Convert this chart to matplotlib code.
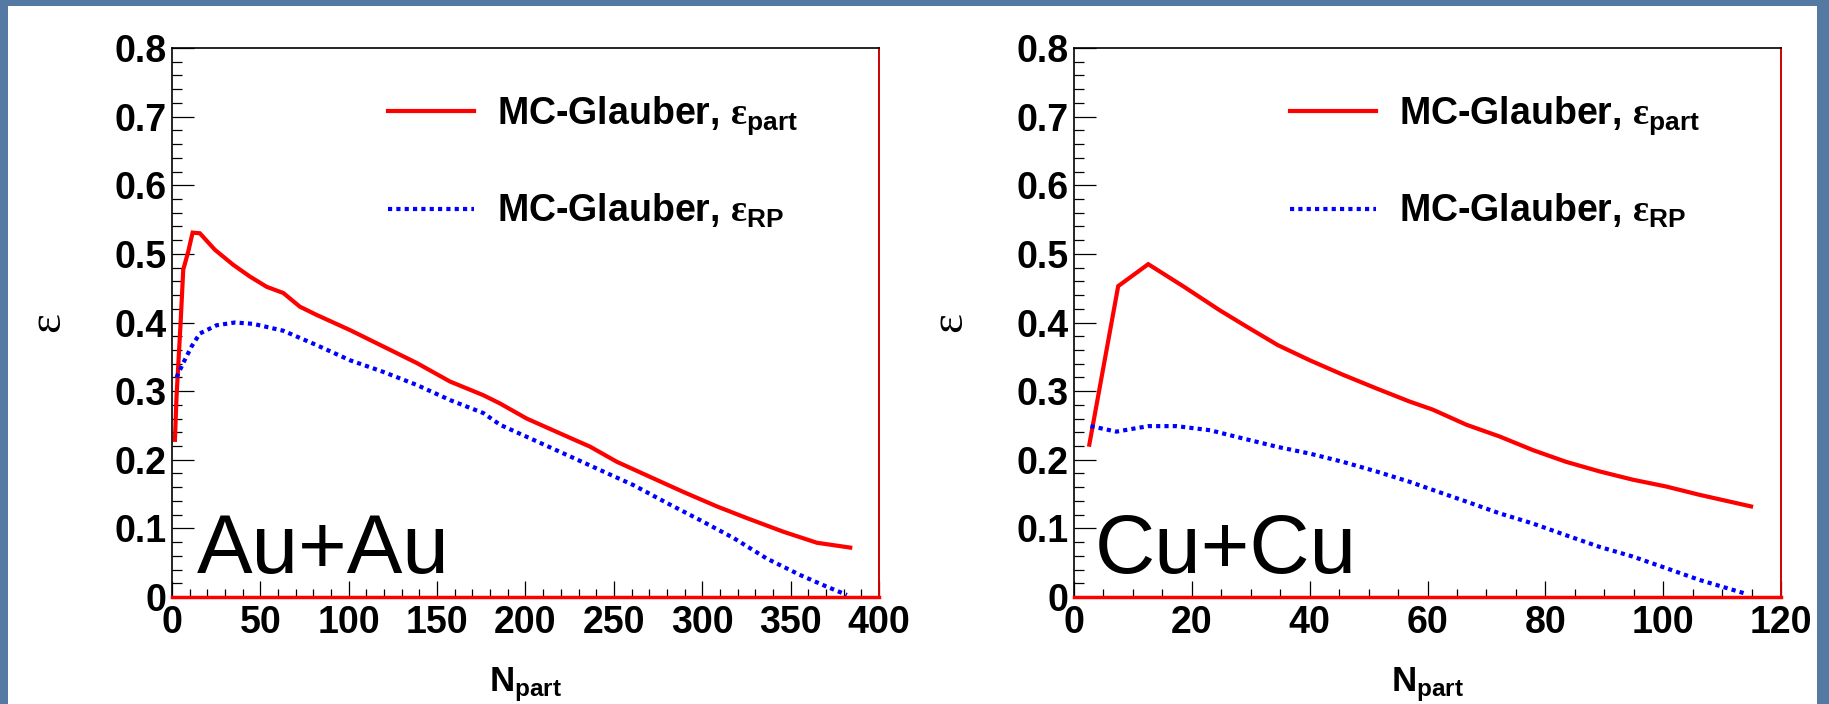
import matplotlib
matplotlib.use("Agg")
import matplotlib.pyplot as plt
from matplotlib.patches import Rectangle
from matplotlib.ticker import MultipleLocator, FixedLocator, FixedFormatter

# Au+Au, eps_part (MC-Glauber)
au_part_n = [1.7, 2.6, 4.9, 6.4, 9.2, 11.7, 15.8, 24.3, 34.7, 44.1, 53.6, 63.0, 72.4,
             81.9, 100.7, 119.6, 138.5, 157.3, 176.2, 185.6, 200.7, 223.4, 236.6,
             251.7, 270.5, 289.4, 308.3, 325.2, 346.0, 364.9, 383.7]
au_part_e = [0.229, 0.292, 0.399, 0.477, 0.503, 0.531, 0.530, 0.506, 0.484, 0.467, 0.452,
             0.443, 0.423, 0.411, 0.389, 0.365, 0.341, 0.314, 0.294, 0.282, 0.260,
             0.234, 0.219, 0.197, 0.175, 0.153, 0.132, 0.115, 0.095, 0.079, 0.072]
# Au+Au, eps_RP
au_rp_n = [2.6, 6.4, 11.1, 15.8, 25.3, 35.7, 46.0, 63.0, 81.9, 100.7, 119.6, 138.5,
           157.3, 176.2, 185.6, 204.5, 223.4, 242.2, 261.1, 280.0, 298.8, 317.7,
           336.5, 355.4, 369.6, 381.8]
au_rp_e = [0.320, 0.341, 0.365, 0.384, 0.396, 0.400, 0.398, 0.388, 0.367, 0.345, 0.328,
           0.309, 0.287, 0.268, 0.251, 0.229, 0.207, 0.185, 0.163, 0.137, 0.112,
           0.086, 0.056, 0.032, 0.016, 0.003]

# Cu+Cu, eps_part
cu_part_n = [2.6, 7.5, 12.6, 18.5, 24.7, 29.3, 34.6, 40.0, 45.6, 51.3, 56.9, 60.9,
             66.6, 72.2, 77.9, 83.5, 89.2, 94.8, 100.5, 106.1, 114.9]
cu_part_e = [0.222, 0.453, 0.485, 0.453, 0.418, 0.394, 0.367, 0.345, 0.324, 0.304,
             0.285, 0.273, 0.251, 0.234, 0.214, 0.197, 0.183, 0.171, 0.161, 0.149, 0.132]
# Cu+Cu, eps_RP
cu_rp_n = [2.8, 7.2, 12.6, 17.4, 23.1, 28.7, 34.4, 40.0, 45.6, 51.3, 56.9, 60.9,
           66.6, 72.2, 77.9, 83.5, 89.2, 94.8, 100.5, 106.1, 114.3]
cu_rp_e = [0.249, 0.241, 0.249, 0.249, 0.243, 0.231, 0.219, 0.209, 0.197, 0.183,
           0.168, 0.156, 0.139, 0.122, 0.107, 0.090, 0.073, 0.059, 0.042, 0.025, 0.004]

y_ticks = [0, 0.1, 0.2, 0.3, 0.4, 0.5, 0.6, 0.7, 0.8]
y_labels = ["0", "0.1", "0.2", "0.3", "0.4", "0.5", "0.6", "0.7", "0.8"]
label_part = r"MC-Glauber, $\mathrm{\varepsilon}_{\mathbf{part}}$"
label_rp = r"MC-Glauber, $\mathrm{\varepsilon}_{\mathbf{RP}}$"

plt.rcParams["font.family"] = ["Liberation Sans", "DejaVu Sans"]
plt.rcParams["font.weight"] = "bold"
plt.rcParams["mathtext.fontset"] = "custom"
plt.rcParams["mathtext.rm"] = "Liberation Serif"
plt.rcParams["mathtext.bf"] = "Liberation Sans:bold"
plt.rcParams["mathtext.it"] = "Liberation Sans:italic"

fig = plt.figure(figsize=(18.29, 7.04), dpi=100, facecolor="#5479a2")
# white slide panel behind the plots
fig.patches.append(Rectangle((8 / 1829, 0), 1809 / 1829, 1 - 6 / 704,
                             transform=fig.transFigure, facecolor="white",
                             edgecolor="none", zorder=-10))

ax1 = fig.add_axes([0.0940, 0.1520, 0.3866, 0.7798])
ax2 = fig.add_axes([0.5872, 0.1520, 0.3866, 0.7798])

panels = [
    (ax1, au_part_n, au_part_e, au_rp_n, au_rp_e, 400, 50, 10, "Au+Au", 14),
    (ax2, cu_part_n, cu_part_e, cu_rp_n, cu_rp_e, 120, 20, 5, "Cu+Cu", 3.6),
]

for ax, pn, pe, rn, re, xmax, xmaj, xmin, name, tx in panels:
    l1, = ax.plot(pn, pe, color="red", lw=3.0, solid_joinstyle="miter")
    l2, = ax.plot(rn, re, color="blue", lw=3.0, linestyle=(0, (1, 1)),
                  dash_capstyle="butt")
    ax.set_xlim(0, xmax)
    ax.set_ylim(0, 0.8)
    ax.xaxis.set_major_locator(MultipleLocator(xmaj))
    ax.xaxis.set_minor_locator(MultipleLocator(xmin))
    ax.yaxis.set_major_locator(FixedLocator(y_ticks))
    ax.yaxis.set_major_formatter(FixedFormatter(y_labels))
    ax.yaxis.set_minor_locator(MultipleLocator(0.02))
    ax.tick_params(axis="both", which="both", direction="in", top=False, right=False,
                   width=0.9, labelsize=27)
    ax.tick_params(axis="y", which="major", length=15.5, pad=4)
    ax.tick_params(axis="y", which="minor", length=7.5)
    ax.tick_params(axis="x", which="major", length=11.5, pad=6)
    ax.tick_params(axis="x", which="minor", length=6)
    for s in ("top", "left"):
        ax.spines[s].set_color("black")
        ax.spines[s].set_linewidth(1.2)
    ax.spines["right"].set_color("#cc0000")
    ax.spines["right"].set_linewidth(1.4)
    ax.spines["bottom"].set_color("red")
    ax.spines["bottom"].set_linewidth(2.5)

    ax.set_xlabel(r"$\mathbf{N_{part}}$", fontsize=25, labelpad=17)
    ax.set_ylabel("\u03b5", fontsize=34, fontweight="normal",
                  family="Liberation Serif")
    ax.yaxis.set_label_coords(-0.145, 0.5)

    ax.text(tx, 0.035, name, fontsize=60, fontweight="normal", va="baseline",
            ha="left")

    ax.legend([l1, l2], [label_part, label_rp], loc="upper left",
              bbox_to_anchor=(0.3055, 0.915), frameon=False,
              prop={"family": "Liberation Sans", "weight": "bold", "size": 27},
              handlelength=2.3, handletextpad=0.6, labelspacing=1.45,
              borderpad=0, borderaxespad=0)

fig.savefig("out.png", dpi=100, facecolor=fig.get_facecolor())
